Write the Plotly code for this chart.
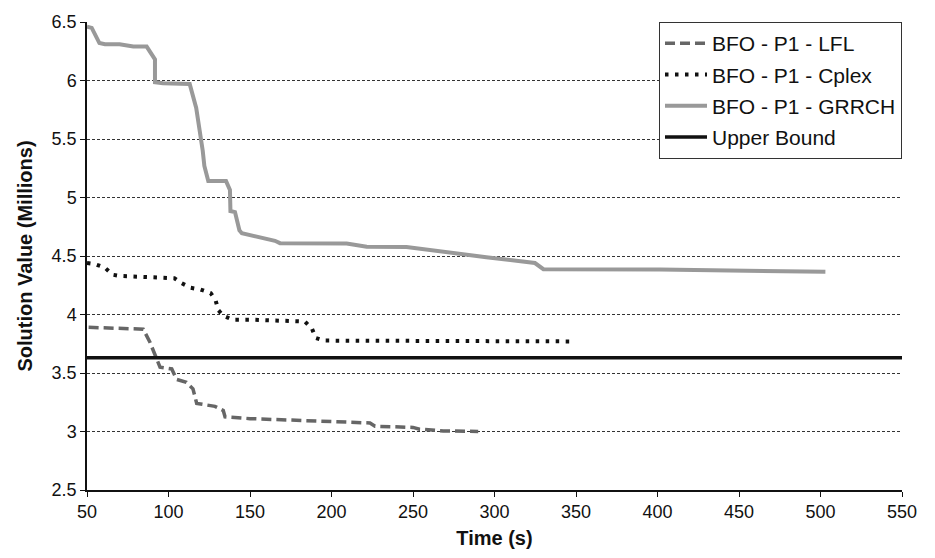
import plotly.graph_objects as go

# ---- data ----
lfl_t = [51, 84.5, 88.7, 92.8, 94.8, 102, 105, 111, 115, 117.3, 128.5, 133.6, 134.7,
         150, 180.7, 219.5, 223.6, 226.7, 246, 250, 254, 268.6, 290]
lfl_v = [3.89, 3.875, 3.76, 3.61, 3.55, 3.535, 3.445, 3.42, 3.365, 3.24, 3.215, 3.18, 3.125,
         3.11, 3.095, 3.08, 3.073, 3.045, 3.04, 3.035, 3.02, 3.005, 3.0]

cplex_t = [50, 55, 61, 65.7, 70, 90, 97, 103.6, 108, 113.6, 119.7, 125.9, 129, 130.5,
           133.6, 139.4, 152, 177.6, 183.7, 188, 190.3, 195.4, 348]
cplex_v = [4.44, 4.43, 4.40, 4.34, 4.33, 4.32, 4.315, 4.31, 4.268, 4.228, 4.213, 4.183, 4.117,
           4.038, 3.99, 3.955, 3.955, 3.94, 3.94, 3.88, 3.80, 3.777, 3.77]

grrch_t = [50, 52.9, 57.6, 61, 70, 78.4, 86.6, 91.7, 91.7, 96.6, 113, 117, 121, 122, 124.4,
           135.3, 137.7, 138, 140.8, 143.5, 145, 165.3, 168.4, 209.3, 221.6, 246, 295, 324.8,
           330, 401.5, 503]
grrch_v = [6.46, 6.45, 6.32, 6.31, 6.31, 6.29, 6.29, 6.18, 5.985, 5.977, 5.97, 5.765, 5.40, 5.27,
           5.14, 5.14, 5.065, 4.884, 4.875, 4.72, 4.695, 4.63, 4.61, 4.607, 4.58, 4.577, 4.49,
           4.44, 4.387, 4.384, 4.365]

ub_t = [50, 550]
ub_v = [3.63, 3.63]

names = ["BFO - P1 - LFL", "BFO - P1 - Cplex", "BFO - P1 - GRRCH", "Upper Bound"]

x_ticks = [50, 100, 150, 200, 250, 300, 350, 400, 450, 500, 550]
y_ticks = [2.5, 3, 3.5, 4, 4.5, 5, 5.5, 6, 6.5]

FONT = "Liberation Sans, Arial, sans-serif"

fig = go.Figure()
fig.add_trace(go.Scatter(x=lfl_t, y=lfl_v, mode="lines", name=names[0], legendgroup="a",
                         line=dict(color="#666666", width=3.5, dash="10px,5px")))
fig.add_trace(go.Scatter(x=cplex_t, y=cplex_v, mode="lines", name=names[1], legendgroup="b",
                         line=dict(color="#111111", width=4, dash="3.5px,6.5px")))
fig.add_trace(go.Scatter(x=grrch_t, y=grrch_v, mode="lines", name=names[2], legendgroup="c",
                         line=dict(color="#999999", width=4)))
fig.add_trace(go.Scatter(x=ub_t, y=ub_v, mode="lines", name=names[3], legendgroup="d",
                         line=dict(color="#111111", width=3.5)))

fig.update_layout(
    width=935, height=558,
    margin=dict(l=87, r=33, t=20, b=66),
    paper_bgcolor="white", plot_bgcolor="white",
    font=dict(family=FONT, size=18, color="#111111"),
    showlegend=True,
    legend=dict(x=1, y=1, xanchor="right", yanchor="top",
                bgcolor="white", bordercolor="#333333", borderwidth=1,
                font=dict(family=FONT, size=21, color="#111111"),
                itemwidth=42, tracegroupgap=1),
    xaxis=dict(range=[50, 550], tickvals=x_ticks, ticktext=[str(v) for v in x_ticks],
               showgrid=False, zeroline=False,
               showline=True, linecolor="#111111", linewidth=1.5,
               ticks="outside", ticklen=5, tickcolor="#111111",
               title=dict(text="<b>Time (s)</b>", font=dict(family=FONT, size=20), standoff=10)),
    yaxis=dict(range=[2.5, 6.5], tickvals=y_ticks, ticktext=[f"{v:g}" for v in y_ticks],
               showgrid=True, gridcolor="#333333", gridwidth=1, griddash="3px,2px",
               zeroline=False,
               showline=True, linecolor="#111111", linewidth=1.5,
               ticks="outside", ticklen=5, tickcolor="#111111",
               title=dict(text="<b>Solution Value (Millions)</b>", font=dict(family=FONT, size=20),
                          standoff=14)),
)

fig.write_html("out.html")
